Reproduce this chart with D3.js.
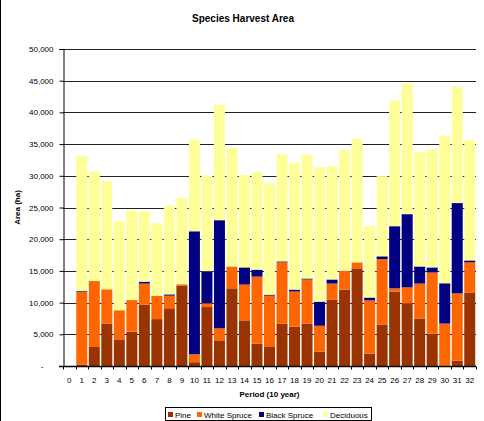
<!DOCTYPE html>
<html>
<head>
<meta charset="utf-8">
<script src="https://cdn.jsdelivr.net/npm/d3@7"></script>
<style>
  body { margin: 0; background: #fff; }
  text { font-family: "Liberation Sans", Arial, sans-serif; }
</style>
</head>
<body>
<div id="chart"></div>
<script>
// periods 0..32
const periods = d3.range(0, 33).map(String);
const species = ["Pine", "White Spruce", "Black Spruce", "Deciduous"];
const colors = ["#993300", "#FF6600", "#000080", "#FFFF99"];

// area per species per period (ha)
const pine = [0, 200, 3000, 6700, 4200, 5400, 9700, 7400, 9100, 12700, 600, 9300, 4050, 12250, 7200, 3500,
  3100, 6700, 6200, 6700, 2250, 10500, 12050, 15400, 1950, 6550, 11750, 9850, 7500, 5100, 50, 850, 11600];
const whiteSpruce = [0, 11450, 10400, 5400, 4600, 5000, 3300, 3700, 2000, 200, 1250, 600, 1900, 3450, 5650, 10600,
  8000, 9650, 5550, 6950, 4100, 2500, 3000, 950, 8400, 10300, 500, 2550, 5500, 9650, 6650, 10600, 4750];
const blackSpruce = [0, 150, 0, 0, 0, 0, 300, 0, 200, 0, 19400, 5050, 17050, 0, 2700, 1100,
  150, 150, 300, 150, 3800, 650, 0, 0, 450, 450, 9800, 11550, 2700, 800, 6350, 14250, 300];
const deciduous = [0, 21300, 17300, 17100, 14000, 14200, 11100, 11400, 14000, 13600, 14450, 15150, 18200, 18700, 14550, 15400,
  17600, 16900, 20000, 19600, 21200, 17900, 19000, 19450, 11300, 12650, 19800, 20600, 18050, 18650, 23250, 18350, 19000];
const yTicks = [0, 5000, 10000, 15000, 20000, 25000, 30000, 35000, 40000, 45000, 50000];

const W = 484, H = 421;
const margin = {top: 49, right: 8, bottom: 55, left: 63};

const rows = periods.map((p, i) => ({
  period: p,
  "Pine": pine[i],
  "White Spruce": whiteSpruce[i],
  "Black Spruce": blackSpruce[i],
  "Deciduous": deciduous[i]
}));

const svg = d3.select("#chart").append("svg")
  .attr("width", W)
  .attr("height", H);

// chart border on the left
svg.append("line")
  .attr("x1", 0.5).attr("x2", 0.5)
  .attr("y1", 0).attr("y2", H)
  .attr("stroke", "#000");

const x = d3.scaleBand()
  .domain(periods)
  .range([margin.left, W - margin.right])
  .paddingInner(0.12)
  .paddingOuter(0.06);

const y = d3.scaleLinear()
  .domain([0, 50000])
  .range([H - margin.bottom, margin.top]);

// gridlines
svg.append("g")
  .selectAll("line")
  .data(yTicks.slice(1))
  .enter().append("line")
  .attr("x1", margin.left).attr("x2", W - margin.right)
  .attr("y1", d => Math.round(y(d)) + 0.5)
  .attr("y2", d => Math.round(y(d)) + 0.5)
  .attr("stroke", "#222")
  .attr("stroke-width", 1);

// stacked bars
const stack = d3.stack().keys(species);
const series = stack(rows);

svg.append("g")
  .selectAll("g")
  .data(series)
  .enter().append("g")
  .attr("fill", (d, i) => colors[i])
  .selectAll("rect")
  .data(d => d)
  .enter().append("rect")
  .attr("x", d => x(d.data.period))
  .attr("width", x.bandwidth())
  .attr("y", d => y(d[1]))
  .attr("height", d => Math.max(0, y(d[0]) - y(d[1])));

// y axis
const yAxis = d3.axisLeft(y)
  .tickValues(yTicks)
  .tickSize(4)
  .tickPadding(6)
  .tickFormat(d => d === 0 ? "-" : d3.format(",")(d));

const gy = svg.append("g")
  .attr("transform", "translate(" + (margin.left + 0.5) + ",0)")
  .call(yAxis);
gy.select(".domain").attr("stroke", "#000");
gy.selectAll(".tick line").attr("stroke", "#000");
gy.selectAll("text")
  .attr("font-size", 8)
  .attr("fill", "#000")
  .attr("font-family", "Liberation Sans, Arial, sans-serif");
gy.selectAll(".tick").filter(d => d === 0).select("text").attr("dx", -10);

// x axis line and ticks between categories
const baseY = Math.round(y(0)) + 0.5;
svg.append("line")
  .attr("x1", margin.left - 4).attr("x2", W - margin.right)
  .attr("y1", baseY).attr("y2", baseY)
  .attr("stroke", "#000").attr("stroke-width", 1.5);

const step = x.step();
const bounds = d3.range(0, periods.length + 1).map(i => margin.left + i * (W - margin.right - margin.left) / periods.length);
svg.append("g")
  .selectAll("line")
  .data(bounds)
  .enter().append("line")
  .attr("x1", d => Math.round(d) + 0.5).attr("x2", d => Math.round(d) + 0.5)
  .attr("y1", baseY).attr("y2", baseY + 3)
  .attr("stroke", "#000");

svg.append("g")
  .selectAll("text")
  .data(periods)
  .enter().append("text")
  .attr("x", d => x(d) + x.bandwidth() / 2)
  .attr("y", baseY + 16)
  .attr("text-anchor", "middle")
  .attr("font-size", 8)
  .text(d => d);

// titles
svg.append("text")
  .attr("x", 243).attr("y", 22)
  .attr("text-anchor", "middle")
  .attr("font-size", 10)
  .attr("font-weight", "bold")
  .text("Species Harvest Area");

svg.append("text")
  .attr("x", (margin.left + W - margin.right) / 2)
  .attr("y", 397)
  .attr("text-anchor", "middle")
  .attr("font-size", 8)
  .attr("font-weight", "bold")
  .text("Period (10 year)");

svg.append("text")
  .attr("transform", "translate(20," + ((margin.top + H - margin.bottom) / 2) + ") rotate(-90)")
  .attr("text-anchor", "middle")
  .attr("font-size", 8)
  .attr("font-weight", "bold")
  .text("Area (ha)");

// legend
const legend = svg.append("g");
legend.append("rect")
  .attr("x", 165.5).attr("y", 407.5)
  .attr("width", 206).attr("height", 13)
  .attr("fill", "#fff")
  .attr("stroke", "#000");

const legendX = [168, 197, 259, 323];
const item = legend.selectAll(".item")
  .data(species)
  .enter().append("g")
  .attr("class", "item")
  .attr("transform", (d, i) => "translate(" + legendX[i] + ",411)");
item.append("rect")
  .attr("width", 5).attr("height", 5)
  .attr("y", 1)
  .attr("fill", (d, i) => colors[i]);
item.append("text")
  .attr("x", 7).attr("y", 7)
  .attr("font-size", 8)
  .text(d => d);
</script>
</body>
</html>
